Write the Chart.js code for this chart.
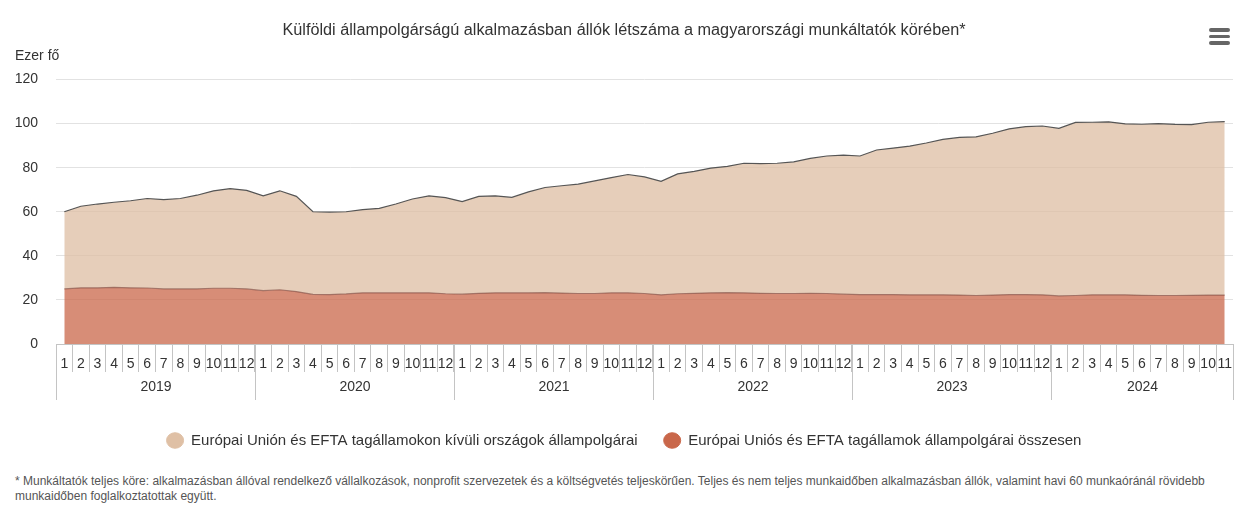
<!DOCTYPE html>
<html lang="hu">
<head>
<meta charset="utf-8">
<title>Külföldi állampolgárságú alkalmazásban állók</title>
<script src="https://cdn.jsdelivr.net/npm/chart.js@4"></script>
<style>
  body { margin: 0; background: #fff; font-family: "Liberation Sans", Arial, sans-serif; }
  #wrap { position: relative; width: 1246px; height: 512px; overflow: hidden; }
  canvas { position: absolute; left: 2px; top: 0; }
  #menu { position: absolute; left: 1209px; top: 28px; width: 21px; }
  #menu span { display: block; height: 3.5px; margin-bottom: 3px; background: #666; border-radius: 2px; }
  #note { position: absolute; left: 15px; top: 474px; font-size: 12px; line-height: 15px; color: #555; white-space: nowrap; }
</style>
</head>
<body>
<div id="wrap">
  <canvas id="chart" width="1244" height="458"></canvas>
  <div id="menu"><span></span><span></span><span></span></div>
  <div id="note">* Munkáltatók teljes köre: alkalmazásban állóval rendelkező vállalkozások, nonprofit szervezetek és a költségvetés teljeskörűen. Teljes és nem teljes munkaidőben alkalmazásban állók, valamint havi 60 munkaóránál rövidebb<br>munkaidőben foglalkoztatottak együtt.</div>
</div>
<script>
const years = ['2019', '2020', '2021', '2022', '2023', '2024'];
const monthsPerYear = [12, 12, 12, 12, 12, 11];
const months = years.flatMap((y, i) => Array.from({ length: monthsPerYear[i] }, (_, m) => String(m + 1)));

// ezer fő, leolvasva
const euEfta = [
  25, 25.5, 25.5, 25.7, 25.5, 25.4, 25, 25, 25, 25.3, 25.3, 25,
  24.2, 24.6, 23.8, 22.5, 22.4, 22.7, 23.2, 23.2, 23.2, 23.2, 23.2, 22.8,
  22.6, 23, 23.2, 23.2, 23.2, 23.3, 23.1, 22.9, 22.9, 23.2, 23.2, 22.9,
  22.3, 22.8, 23, 23.2, 23.3, 23.2, 23, 22.9, 22.9, 23, 22.9, 22.6,
  22.4, 22.4, 22.4, 22.3, 22.3, 22.3, 22.2, 22, 22.2, 22.4, 22.4, 22.3,
  21.8, 22, 22.3, 22.3, 22.3, 22.1, 22, 22, 22.1, 22.2, 22.2
];
const nonEuEfta = [
  35, 37, 38, 38.6, 39.5, 40.6, 40.5, 41, 42.5, 44.2, 45.2, 44.7,
  43, 44.9, 43.2, 37.5, 37.4, 37.3, 37.8, 38.3, 40.3, 42.6, 44, 43.6,
  42, 44, 44, 43.3, 45.8, 47.7, 48.7, 49.6, 51.1, 52.3, 53.7, 52.9,
  51.5, 54.4, 55.3, 56.6, 57.3, 58.8, 58.8, 59.1, 59.7, 61.2, 62.4, 63.1,
  62.9, 65.6, 66.5, 67.5, 68.9, 70.5, 71.5, 72, 73.4, 75.2, 76.2, 76.6,
  76, 78.5, 78.3, 78.5, 77.6, 77.6, 78, 77.6, 77.4, 78.4, 78.7
];

const FONT = '"Liberation Sans", Arial, sans-serif';

// evek sora es az "Ezer fo" felirat
const axisExtras = {
  id: 'axisExtras',
  afterDraw(chart) {
    const { ctx, scales: { x, y } } = chart;
    const half = (x.getPixelForValue(1) - x.getPixelForValue(0)) / 2;
    ctx.save();
    ctx.strokeStyle = '#c4c4c4';
    ctx.lineWidth = 1;
    ctx.fillStyle = '#333';
    ctx.font = '14px ' + FONT;
    ctx.textAlign = 'center';
    ctx.textBaseline = 'middle';
    let start = 0;
    years.forEach((year, i) => {
      const end = start + monthsPerYear[i];
      const left = Math.round(x.getPixelForValue(start) - half) + 0.5;
      const right = Math.round(x.getPixelForValue(end - 1) + half) + 0.5;
      ctx.beginPath();
      ctx.moveTo(left, y.bottom);
      ctx.lineTo(left, y.bottom + 56);
      ctx.moveTo(right, y.bottom);
      ctx.lineTo(right, y.bottom + 56);
      ctx.stroke();
      ctx.fillText(year, (left + right) / 2, y.bottom + 43);
      start = end;
    });
    ctx.textAlign = 'left';
    ctx.fillText('Ezer fő', 13, 56);
    ctx.restore();
  }
};

new Chart(document.getElementById('chart'), {
  type: 'line',
  data: {
    labels: months,
    datasets: [
      {
        label: 'Európai Uniós és EFTA tagállamok állampolgárai összesen',
        data: euEfta,
        fill: 'origin',
        backgroundColor: 'rgba(201,103,74,0.75)',
        borderColor: 'rgba(120,70,60,0.6)',
        pointBackgroundColor: '#c9674a',
        pointBorderColor: '#c9674a'
      },
      {
        label: 'Európai Unión és EFTA tagállamokon kívüli országok állampolgárai',
        data: nonEuEfta,
        fill: '-1',
        backgroundColor: 'rgba(221,190,163,0.75)',
        borderColor: '#555',
        pointBackgroundColor: '#dfc0a5',
        pointBorderColor: '#dfc0a5'
      }
    ]
  },
  options: {
    responsive: false,
    animation: false,
    elements: {
      line: { borderWidth: 1.2, tension: 0 },
      point: { radius: 0, hoverRadius: 0 }
    },
    scales: {
      x: {
        stacked: true,
        offset: true,
        afterFit: (s) => { s.height = 63; },
        border: { color: '#c4c4c4' },
        grid: { offset: true, drawOnChartArea: false, tickLength: 28, color: '#c4c4c4' },
        ticks: { autoSkip: false, maxRotation: 0, padding: -16, color: '#333', font: { family: FONT, size: 14 } }
      },
      y: {
        stacked: true,
        min: 0,
        max: 120,
        afterFit: (s) => { s.width = 54; },
        border: { display: false },
        grid: { color: '#e2e2e2', drawTicks: false },
        ticks: { stepSize: 20, padding: 18, color: '#333', font: { family: FONT, size: 14 } }
      },
      // ures jobb oldali sav, hogy a cim es a jelmagyarazat kozepen maradjon
      rightGap: {
        position: 'right',
        afterFit: (s) => { s.width = 13; },
        border: { display: false },
        grid: { display: false },
        ticks: { display: false }
      }
    },
    plugins: {
      title: {
        display: true,
        text: 'Külföldi állampolgárságú alkalmazásban állók létszáma a magyarországi munkáltatók körében*',
        color: '#333',
        font: { family: FONT, size: 16.24, weight: 'normal' },
        padding: { top: 21, bottom: 39 }
      },
      legend: {
        position: 'bottom',
        reverse: true,
        labels: {
          usePointStyle: true,
          pointStyle: 'circle',
          boxHeight: 11,
          pointStyleWidth: 17,
          padding: 26,
          color: '#333',
          font: { family: FONT, size: 15 }
        }
      },
      tooltip: { enabled: false }
    }
  },
  plugins: [axisExtras]
});
</script>
</body>
</html>
